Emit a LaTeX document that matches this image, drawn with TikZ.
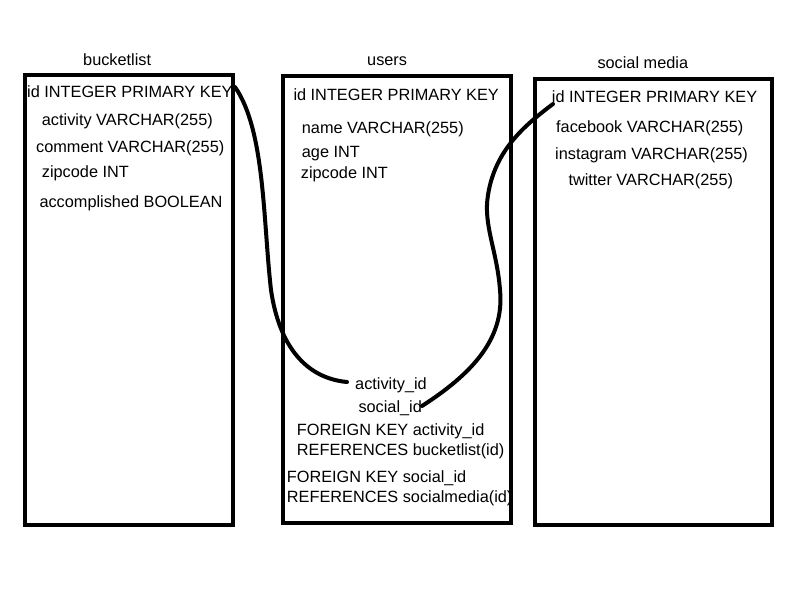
\documentclass[tikz,border=0pt]{standalone}
\usepackage{fontspec}
\setmainfont{Liberation Sans}
\begin{document}
\begin{tikzpicture}[x=1pt,y=-1pt,
  txt/.style={anchor=base west,inner sep=0pt,font=\fontsize{16.3}{19}\selectfont},
  tbl/.style={draw=black,line width=4pt},
  link/.style={draw=black,line width=4pt,line cap=round}]
\useasboundingbox (0,0) rectangle (800,600);
% bucketlist
\node[txt] (blt) at (83,65) {bucketlist};
\node[txt] (blid) at (27,97) {id INTEGER PRIMARY KEY};
\node[txt] (blact) at (41.7,125.5) {activity VARCHAR(255)};
\node[txt] (blcom) at (36,152.5) {comment VARCHAR(255)};
\node[txt] (blzip) at (41.7,177.5) {zipcode INT};
\node[txt] (blacc) at (39.3,207.5) {accomplished BOOLEAN};
% users
\node[txt] (ut) at (367,65) {users};
\node[txt] (uid) at (293.3,100.5) {id INTEGER PRIMARY KEY};
\node[txt] (uname) at (301.7,133.5) {name VARCHAR(255)};
\node[txt] (uage) at (301.7,157.5) {age INT};
\node[txt] (uzip) at (300.7,178.5) {zipcode INT};
\node[txt] (uact) at (355,389) {activity\_id};
\node[txt] (usoc) at (358.3,412) {social\_id};
\node[txt] (ufk1) at (296.7,435.5) {FOREIGN KEY activity\_id};
\node[txt] (uref1) at (296.7,455.5) {REFERENCES bucketlist(id)};
\node[txt] (ufk2) at (286.7,482.5) {FOREIGN KEY social\_id};
\node[txt] (uref2) at (286.7,502.5) {REFERENCES socialmedia(id)};
% social media
\node[txt] (smt) at (597.3,68) {social media};
\node[txt] (smid) at (551.7,102.5) {id INTEGER PRIMARY KEY};
\node[txt] (smfb) at (556,132.5) {facebook VARCHAR(255)};
\node[txt] (smig) at (555,159.5) {instagram VARCHAR(255)};
\node[txt] (smtw) at (568.3,185.5) {twitter VARCHAR(255)};
% boxes
\draw[tbl] (25,74.7) rectangle (232.7,525.3);
\draw[tbl] (282.5,75.8) rectangle (511,522.7);
\draw[tbl] (534.7,79.3) rectangle (772,524.7);
% connectors
\coordinate (c1a) at (235,87);
\coordinate (c1m) at (271,290);
\coordinate (c1b) at (347,382);
\coordinate (c2a) at (422,406);
\coordinate (c2m) at (500,290);
\coordinate (c2n) at (488,195);
\coordinate (c2b) at (553,104);
\draw[link] (c1a) .. controls (265,130) and (263,220) .. (c1m)
  .. controls (279,345) and (305,378) .. (c1b);
\draw[link] (c2a) .. controls (470,375) and (505,340) .. (c2m)
  .. controls (497,250) and (483,225) .. (c2n)
  .. controls (495,150) and (525,125) .. (c2b);
\end{tikzpicture}
\end{document}
